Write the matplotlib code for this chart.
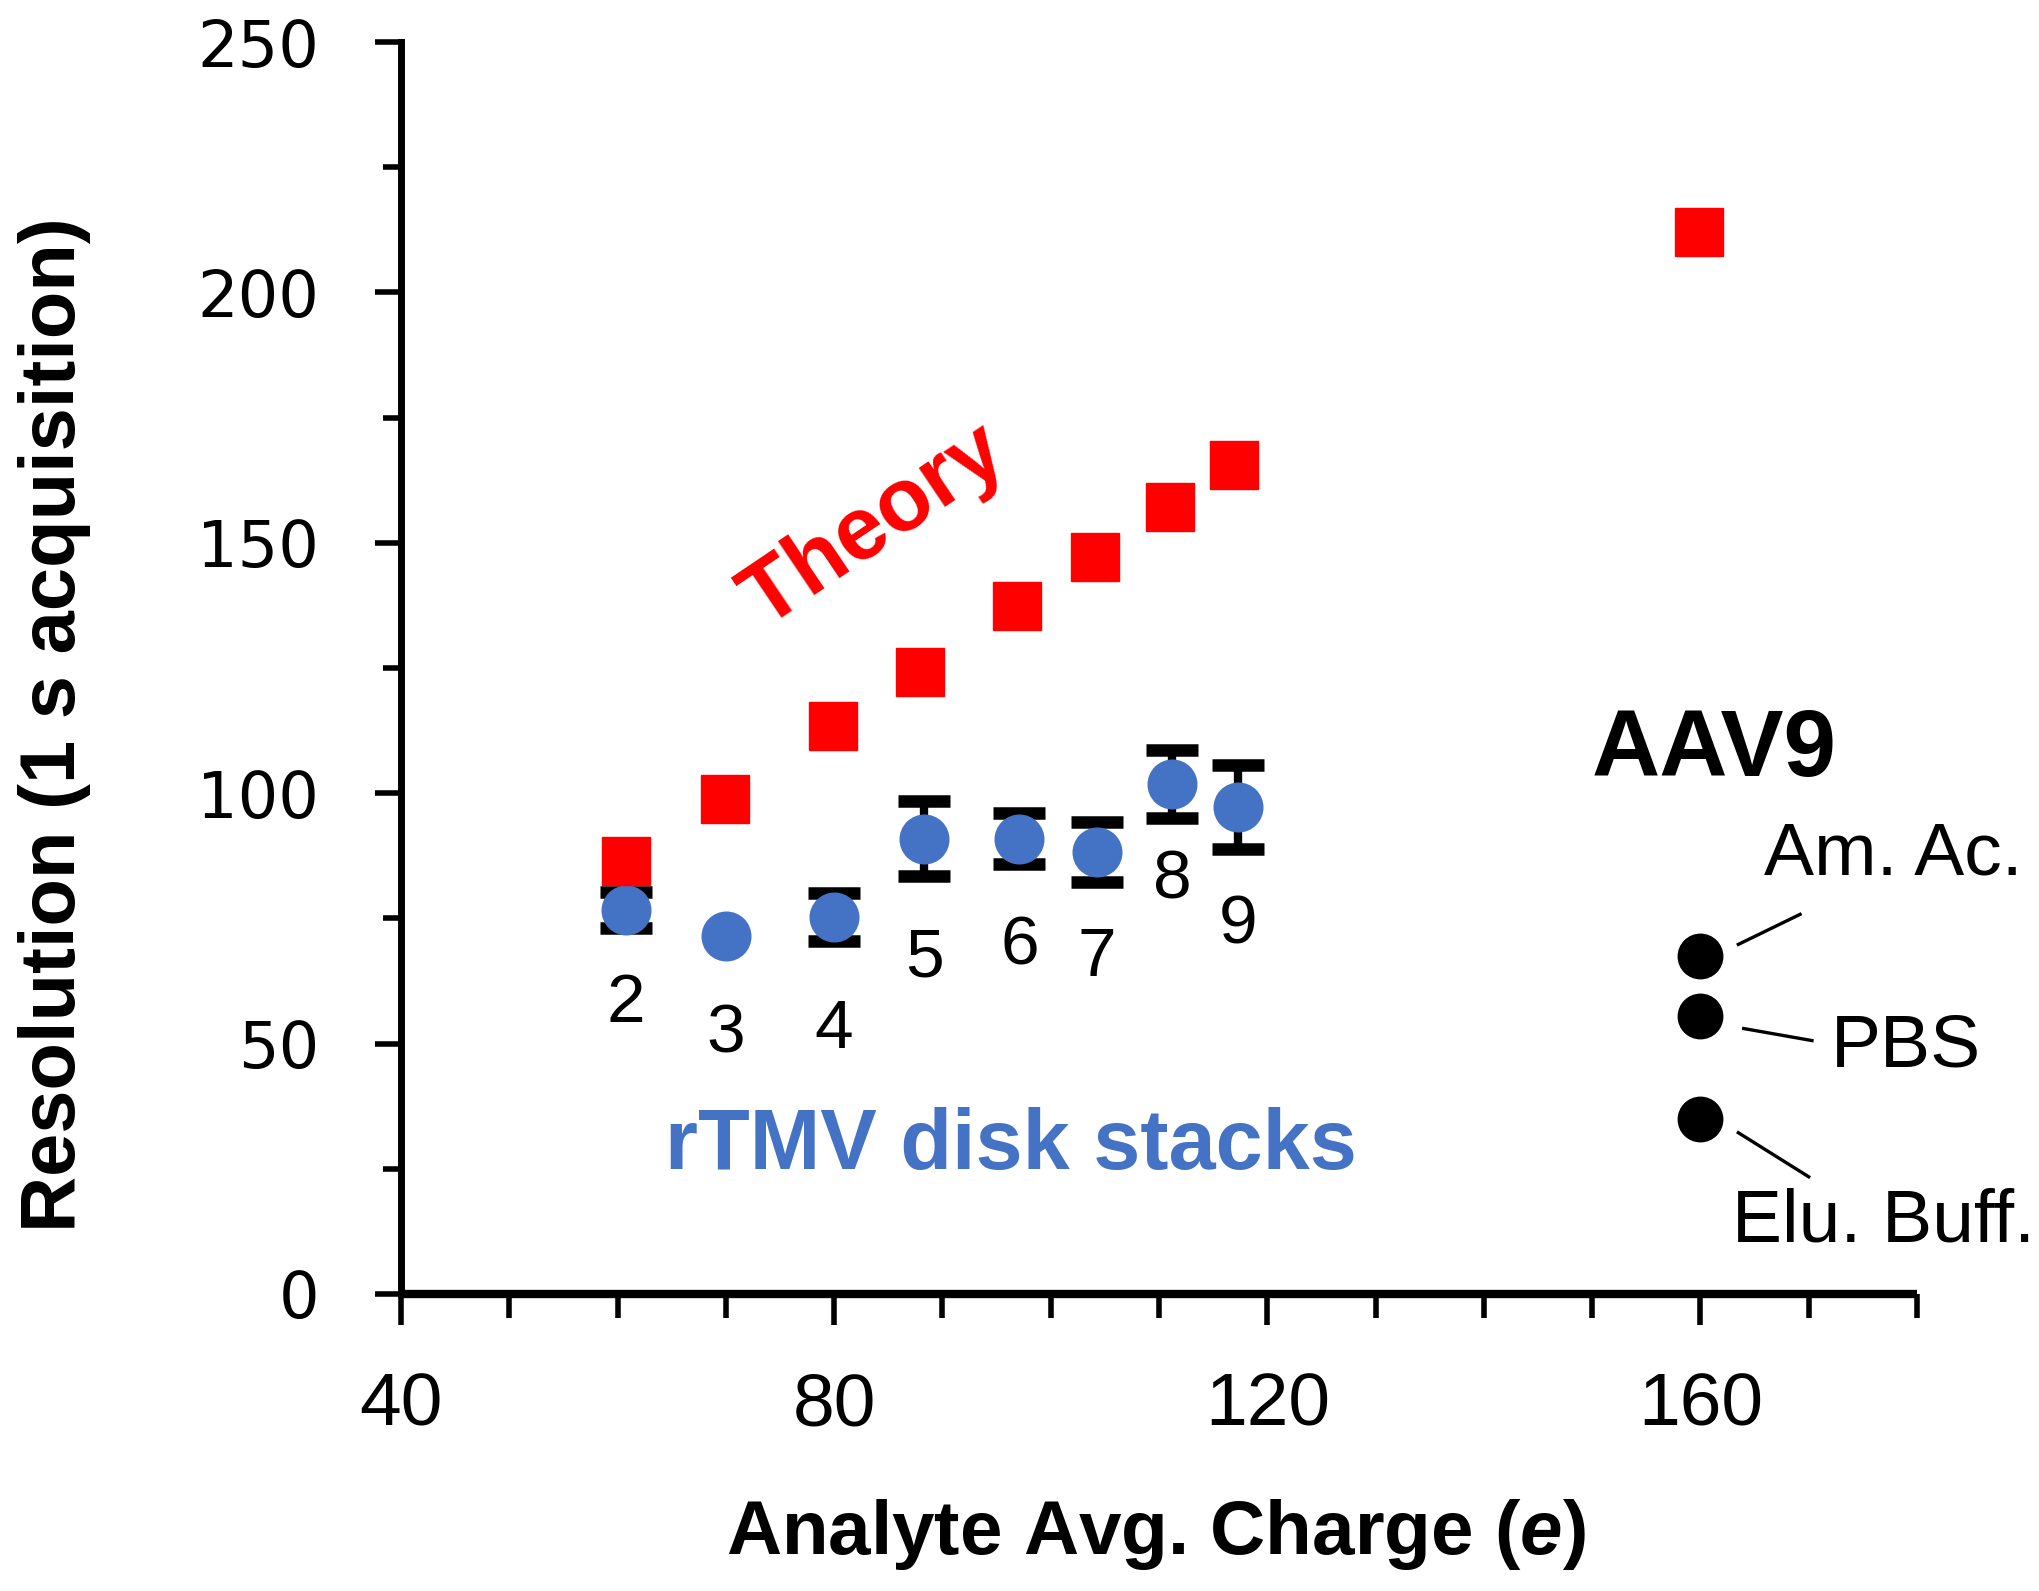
import numpy as np
import matplotlib
matplotlib.use("Agg")
import matplotlib.pyplot as plt
from matplotlib.ticker import MultipleLocator

# theory (red squares)
theory_x = [60.8, 69.9, 79.9, 87.9, 96.9, 104.1, 111.0, 116.9, 159.9]
theory_y = [86.4, 98.9, 113.4, 124.1, 137.3, 147.2, 157.1, 165.6, 212.1]

# rTMV disk stacks (blue circles with error bars)
stack_n = ["2", "3", "4", "5", "6", "7", "8", "9"]
stack_x = [60.8, 70.0, 80.0, 88.3, 97.1, 104.3, 111.2, 117.3]
stack_y = [76.6, 71.4, 75.3, 90.9, 90.9, 88.2, 101.8, 97.3]
stack_err = [3.6, 0.0, 4.8, 7.5, 5.1, 6.0, 6.8, 8.4]  # 0 = no bar visible
label_y = [57.9, 51.9, 52.7, 67.0, 69.3, 67.0, 82.6, 73.5]

# AAV9 buffers (black circles)
aav_names = ["Am. Ac.", "PBS", "Elu. Buff."]
aav_x = [160.0, 160.0, 160.0]
aav_y = [67.5, 55.6, 35.0]

arial = ["Liberation Sans", "DejaVu Sans"]

plt.rcParams["mathtext.fontset"] = "custom"
plt.rcParams["mathtext.it"] = "Liberation Sans:italic:bold"
plt.rcParams["mathtext.rm"] = "Liberation Sans:bold"

fig = plt.figure(figsize=(20.4, 15.91), dpi=100)
ax = fig.add_axes([0.1966, 0.1867, 0.7431, 0.7869])

has_err = np.array(stack_err) > 0
ax.errorbar(np.array(stack_x)[has_err], np.array(stack_y)[has_err],
            yerr=np.array(stack_err)[has_err], fmt="none", ecolor="black",
            elinewidth=6, capsize=19, capthick=9, zorder=2)
ax.plot(stack_x, stack_y, "o", color="#4472C4", markersize=35, zorder=3)
ax.plot(theory_x, theory_y, "s", color="#FF0000", markersize=35, zorder=4)
ax.plot(aav_x, aav_y, "o", color="black", markersize=32, zorder=3)

for n, x, y in zip(stack_n, stack_x, label_y):
    ax.text(x, y, n, ha="center", va="center", fontsize=50, family=arial)

# leader lines for AAV9 buffers
ax.plot([163.5, 169.2], [69.8, 75.8], color="black", lw=2.4)
ax.plot([164.0, 170.3], [53.0, 50.6], color="black", lw=2.4)
ax.plot([163.5, 170.0], [32.2, 23.4], color="black", lw=2.4)
ax.text(177.8, 87.7, aav_names[0], ha="center", va="center", fontsize=54, family=arial)
ax.text(179.0, 49.3, aav_names[1], ha="center", va="center", fontsize=54, family=arial)
ax.text(176.9, 14.3, aav_names[2], ha="center", va="center", fontsize=54, family=arial)
ax.text(161.3, 108.3, "AAV9", ha="center", va="center", fontsize=68,
        fontweight="bold", family=arial)

ax.text(83.7, 153.2, "Theory", ha="center", va="center", fontsize=64,
        fontweight="bold", color="#FF0000", rotation=34, rotation_mode="anchor",
        family=arial)
ax.text(96.3, 29.3, "rTMV disk stacks", ha="center", va="center", fontsize=61,
        fontweight="bold", color="#4472C4", family=arial)

ax.set_xlim(40, 180)
ax.set_ylim(0, 250)
ax.xaxis.set_major_locator(MultipleLocator(40))
ax.xaxis.set_minor_locator(MultipleLocator(10))
ax.yaxis.set_major_locator(MultipleLocator(50))
ax.yaxis.set_minor_locator(MultipleLocator(25))

ax.spines["top"].set_visible(False)
ax.spines["right"].set_visible(False)
ax.spines["bottom"].set_linewidth(6)
ax.spines["left"].set_linewidth(5)
ax.spines["bottom"].set_capstyle("butt")

ax.tick_params(axis="x", which="major", length=22, width=4, pad=34)
ax.tick_params(axis="x", which="minor", length=17, width=4)
ax.tick_params(axis="y", which="major", length=19, width=4, pad=40)
ax.tick_params(axis="y", which="minor", length=13, width=4)

for t in ax.get_xticklabels():
    t.set_fontsize(54)
    t.set_family(arial)
for t in ax.get_yticklabels():
    t.set_fontsize(46)
    t.set_family(["DejaVu Sans"])

fig.text(55 / 2040, 1 - 725 / 1591, "Resolution (1 s acquisition)", rotation=90,
         ha="center", va="center", fontsize=56, fontweight="bold", family=arial)
fig.text(1156 / 2040, 1 - 1535 / 1591, r"Analyte Avg. Charge ($\mathit{e}$)",
         ha="center", va="center", fontsize=55, fontweight="bold", family=arial)

fig.savefig("out.png", dpi=100)
